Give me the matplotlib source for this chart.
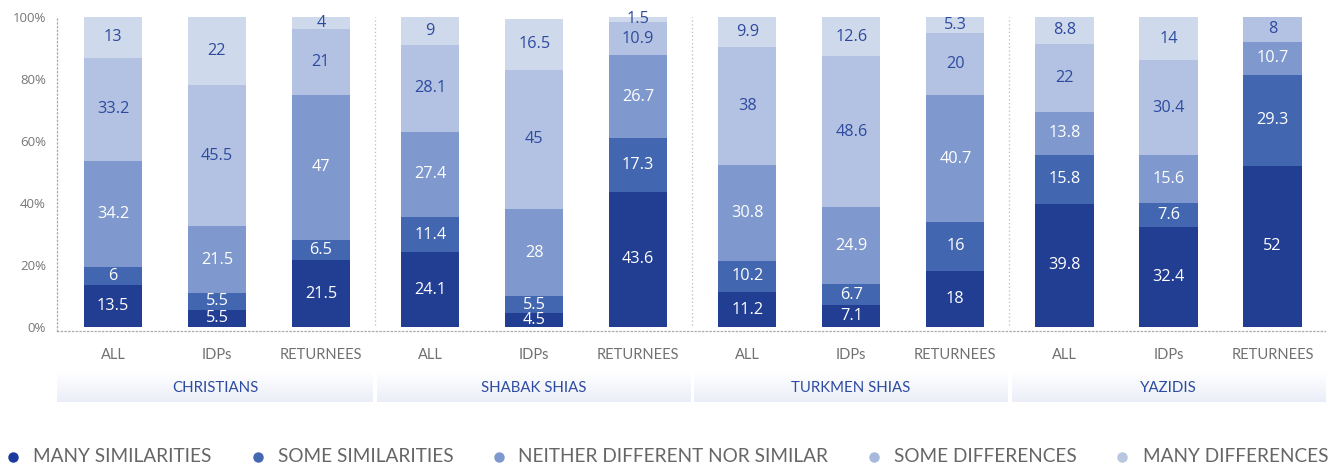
import matplotlib
matplotlib.use("Agg")
import matplotlib.pyplot as plt
import numpy as np
from matplotlib.lines import Line2D
from matplotlib.colors import LinearSegmentedColormap

groups = ["CHRISTIANS", "SHABAK SHIAS", "TURKMEN SHIAS", "YAZIDIS"]
subcats = ["ALL", "IDPs", "RETURNEES"]
series = ["MANY SIMILARITIES", "SOME SIMILARITIES", "NEITHER DIFFERENT NOR SIMILAR",
          "SOME DIFFERENCES", "MANY DIFFERENCES"]

many_sim = [13.5, 5.5, 21.5, 24.1, 4.5, 43.6, 11.2, 7.1, 18, 39.8, 32.4, 52]
some_sim = [6, 5.5, 6.5, 11.4, 5.5, 17.3, 10.2, 6.7, 16, 15.8, 7.6, 29.3]
neither = [34.2, 21.5, 47, 27.4, 28, 26.7, 30.8, 24.9, 40.7, 13.8, 15.6, 10.7]
some_diff = [33.2, 45.5, 21, 28.1, 45, 10.9, 38, 48.6, 20, 22, 30.4, 8]
many_diff = [13, 22, 4, 9, 16.5, 1.5, 9.9, 12.6, 5.3, 8.8, 14, 0]

values = [many_sim, some_sim, neither, some_diff, many_diff]
colors = ["#223E93", "#4267B0", "#7F98CD", "#B3C2E2", "#CED9EB"]
legend_colors = ["#1C3A9C", "#4467B2", "#7E97CD", "#A7B8DD", "#B8C6DF"]
label_colors = ["white", "white", "white", "#2E4A9E", "#2E4A9E"]

W, H = 1344, 467
fig = plt.figure(figsize=(W / 100, H / 100), dpi=100)
ax = fig.add_axes([57 / W, 1 - 331 / H, (1325 - 57) / W, (331 - 17) / H])

step = 3.05
xpos = np.array([g * step + j for g in range(4) for j in range(3)], dtype=float)
bw = 0.56

bottom = np.zeros(len(xpos))
for vals, c, lc in zip(values, colors, label_colors):
    v = np.array(vals, dtype=float)
    ax.bar(xpos, v, bw, bottom=bottom, color=c, linewidth=0, zorder=2)
    for x, b, val in zip(xpos, bottom, v):
        if val > 0:
            ax.text(x, b + val / 2, f"{val:g}", ha="center", va="center", color=lc,
                    fontsize=11.7, family="Open Sans", zorder=3)
    bottom += v

ax.set_yticks([0, 20, 40, 60, 80, 100])
ax.set_yticklabels([f"{t}%" for t in [0, 20, 40, 60, 80, 100]],
                   family="Open Sans", fontsize=9.5, color="#777777")
ax.tick_params(axis="y", length=0, pad=8)
ax.set_xticks(xpos)
ax.set_xticklabels(subcats * 4, family="Lato", fontsize=10.5, color="#707070")
ax.tick_params(axis="x", length=0, pad=12)
for s in ["top", "right"]:
    ax.spines[s].set_visible(False)
for s in ["left", "bottom"]:
    ax.spines[s].set_linestyle((0, (1, 2)))
    ax.spines[s].set_color("#AAAAAA")
    ax.spines[s].set_linewidth(0.9)

seps = [g * step + 2.52 for g in range(3)]
for sx in seps:
    ax.plot([sx, sx], [0.5, 100], linestyle=(0, (1, 2)), color="#BBBBBB", lw=0.9,
            zorder=1)

# group bands
edges = [-0.538] + seps + [11.654]
grad = np.linspace(0, 1, 64).reshape(-1, 1)
cmap = LinearSegmentedColormap.from_list("band", ["#FFFFFF", "#EBEEF8"])
for g in range(4):
    x0 = edges[g] + (0.02 if g > 0 else 0)
    x1 = edges[g + 1] - (0.02 if g < 3 else 0)
    ax.imshow(grad, extent=(x0, x1, -24.2, -14.84), cmap=cmap, aspect="auto",
              origin="upper", clip_on=False, zorder=0)
    ax.text((x0 + x1) / 2, -19.8, groups[g], ha="center", va="center",
            color="#2D4BA0", family="Lato", fontsize=10.8, clip_on=False)

ax.set_xlim(-0.538, 11.654)
ax.set_ylim(-1.29, 100)

# legend
mx = [13, 258, 499, 874, 1122]
tx = [33, 278, 518, 894, 1143]
ly = 1 - 457 / H
for m, t, c, name in zip(mx, tx, legend_colors, series):
    fig.add_artist(Line2D([m / W], [ly], marker="o", markersize=6.5, color=c,
                          linestyle="none", transform=fig.transFigure))
    fig.text(t / W, ly, name, ha="left", va="center", family="Lato",
             fontsize=13.7, color="#666666")

fig.savefig("out.png", dpi=100)
